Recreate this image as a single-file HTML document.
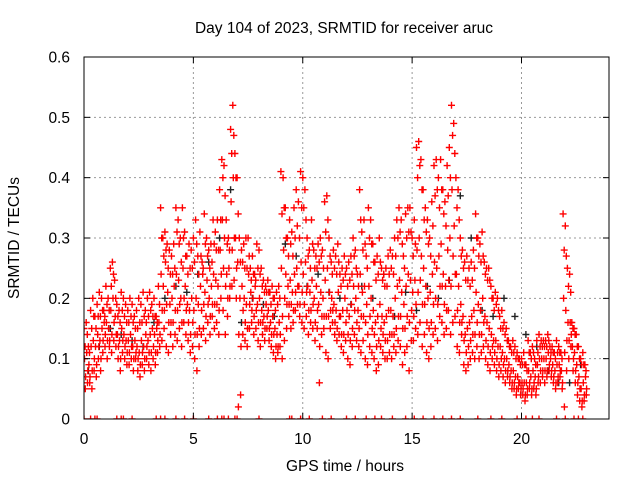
<!DOCTYPE html>
<html><head><meta charset="utf-8"><style>
body{margin:0;background:#fff}
svg{display:block;font-family:"Liberation Sans",sans-serif}
</style></head><body>
<svg id="c" width="640" height="480">
<text x="344" y="33" font-size="15.5" text-anchor="middle">Day 104 of 2023, SRMTID for receiver aruc</text>
<text x="345" y="471" font-size="15.5" text-anchor="middle">GPS time / hours</text>
<text transform="translate(19,238) rotate(-90)" font-size="15.5" text-anchor="middle">SRMTID / TECUs</text>
<defs><clipPath id="pc"><rect x="84" y="57" width="525" height="362"/></clipPath></defs>
<g id="grid"></g>
<g id="pts" clip-path="url(#pc)"></g>
<rect x="84" y="57" width="525" height="362" fill="none" stroke="#000" stroke-width="1"/>
<g id="ticks"></g>
</svg>
<script>
const xTicks=[0,5,10,15,20];
const yTicks=[0,0.1,0.2,0.3,0.4,0.5,0.6];
const yTickLabels=["0","0.1","0.2","0.3","0.4","0.5","0.6"];
const redHi=[15,16,12,18,20,17,19,21,20,18,22,20,25,26,23,19,18,21,20,19,18,20,19,17,18,20,19,21,18,20,21,19,20,17,22,35,30,31,29,28,27,29,35,33,30,35,31,27,29,28,30,33,27,31,26,34,30,28,29,33,31,33,38,43,42,33,30,48,52,44,40,30,28,29,30,30,25,27,24,29,28,25,23,22,23,21,22,20,21,22,41,40,35,30,33,31,35,38,36,41,40,38,30,28,33,28,27,29,30,28,36,37,30,26,28,27,29,24,25,27,25,26,27,30,28,24,38,31,33,27,35,33,29,26,27,30,25,24,25,27,28,27,30,33,35,33,27,34,35,35,30,33,45,46,43,38,35,33,30,36,42,43,40,43,38,36,42,45,52,49,40,38,30,28,26,27,25,26,28,34,30,29,31,26,25,25,22,20,21,20,17,18,16,15,13,12,13,12,11,10,10,11,9,13,11,12,10,13,14,13,13,13,14,12,12,11,13,12,11,34,32,25,24,16,15,14,12,10,11,9];
const redQ1=[12,14,11,15,17,15,17,17,18,17,19,18,22,24,20,17,16,18,17,16,16,17,16,15,15,16,16,17,16,17,18,17,17,16,19,30,27,28,25,24,24,25,31,29,26,30,27,24,25,25,26,29,24,27,25,29,27,25,26,29,28,28,33,40,37,29,28,44,47,40,34,26,26,25,25,27,23,24,23,25,24,22,21,21,21,19,20,18,19,20,34,35,30,27,29,27,30,32,30,35,35,33,27,25,29,25,25,26,27,25,31,33,27,24,25,24,26,22,23,24,22,23,24,27,25,22,33,28,29,25,30,29,26,23,24,26,23,22,22,24,25,24,27,30,31,29,25,30,31,31,27,29,40,42,38,33,31,29,27,32,37,38,35,38,34,32,37,40,47,44,35,33,27,25,23,23,22,23,25,30,27,26,27,24,23,23,20,18,19,18,15,15,14,13,12,11,11,10,10,9,9,9,8,11,10,11,9,11,12,12,12,12,13,11,11,10,11,11,10,28,27,22,21,15,14,12,10,9,9,8];
const redMid=[10,11,9,12,13,12,14,13,15,16,16,15,18,20,17,14,13,15,14,13,13,14,12,13,12,11,13,12,14,13,14,15,14,15,16,24,22,26,21,19,20,22,24,23,20,25,22,19,18,20,18,20,19,22,24,21,23,20,22,24,23,22,28,33,30,24,25,36,40,30,26,20,22,20,19,24,21,20,22,19,20,18,17,19,18,16,17,15,14,16,25,28,24,22,23,21,24,25,22,26,24,26,22,21,23,20,22,19,21,20,23,25,21,20,19,18,21,17,18,20,18,17,19,22,20,18,24,21,22,19,22,20,18,16,17,19,17,16,17,18,18,17,20,22,23,21,19,22,24,23,21,23,28,30,27,25,22,20,21,24,26,25,27,29,24,22,28,30,38,32,24,22,19,17,14,15,16,17,18,21,19,18,20,17,16,15,14,13,13,12,12,11,10,10,9,8,8,7,7,6,6,6,6,8,7,8,7,9,10,10,10,10,11,10,9,8,9,9,8,20,18,16,16,12,11,9,7,5,6,7];
const redQ3=[7,8,7,8,10,9,12,10,13,14,13,13,14,16,14,12,10,13,12,11,11,12,10,11,10,9,11,10,12,11,11,12,11,13,14,18,18,19,16,16,16,18,18,19,16,20,18,16,14,16,14,14,15,18,19,17,19,17,19,19,19,18,24,25,22,20,22,28,30,25,14,12,18,16,15,19,18,17,18,16,16,16,15,17,15,14,14,12,12,14,17,20,19,19,19,18,21,22,19,21,19,21,18,18,19,16,18,12,17,17,17,17,18,18,16,15,17,14,14,16,14,13,15,18,16,15,17,17,16,14,17,15,14,12,13,15,14,13,13,14,14,14,15,17,17,15,15,17,16,18,17,19,21,23,19,19,16,15,16,19,20,19,22,22,19,18,23,22,27,24,18,16,16,13,11,12,13,14,14,16,14,14,16,13,12,11,12,11,10,9,10,9,8,8,7,6,6,5,6,5,5,4,5,6,5,6,5,7,8,8,8,8,9,8,7,6,7,8,6,11,13,13,14,10,8,6,5,3,4,5];
const redLo=[5,6,6,5,8,7,10,8,11,12,10,12,11,13,12,10,8,11,10,9,9,10,8,10,8,7,9,8,10,9,8,10,9,11,12,13,15,12,11,14,12,14,13,15,12,16,14,13,11,12,10,8,12,14,15,13,16,14,17,15,16,14,20,18,14,17,20,22,23,20,2,4,14,13,12,15,16,14,15,13,12,14,13,15,13,12,11,10,11,12,10,13,15,17,15,16,18,19,17,16,15,17,14,16,15,13,15,6,14,15,11,10,15,16,14,13,14,12,11,13,10,9,12,14,13,12,11,13,10,9,12,11,10,8,9,12,11,10,10,11,10,12,11,13,12,9,11,12,8,13,13,15,14,16,12,14,11,10,12,14,15,13,17,16,14,15,18,14,16,17,12,11,14,9,8,9,10,11,10,12,10,11,12,10,9,8,10,9,8,7,8,7,6,7,6,5,5,4,5,4,4,3,4,5,4,5,4,6,6,7,6,7,8,7,6,5,6,7,5,2,8,10,12,8,6,4,3,2,3,4];
const black=[8,12,15,14,13,12,16,20,22,21,24,26,30,38,16,20,19,17,29,27,22,24,21,20,19,22,20,24,17,21,18,22,20,23,37,30,18,17,20,17,14,12,8,6,6,9];
const zeroTimes=[0,0.3,0.5,0.6,1.5,1.7,1.8,2.2,3.3,3.5,3.7,4.2,4.6,5.0,5.7,6.1,6.3,6.4,6.6,6.9,7.0,8.0,9.4,9.5,9.9,10.3,10.9,11.3,12.0,12.4,12.9,13.3,13.6,14.1,14.7,15.1,15.5,16.0,16.4,16.8,17.2,18.0,18.6,19.1,19.8,20.2,20.5,20.8,21.6,22.0,22.4,22.6,22.8];

const NS="http://www.w3.org/2000/svg";
const X0=84,X1=609,Y0=419,Y1=57,XMAX=24,YMAX=0.6;
function xs(t){return X0+(X1-X0)*t/XMAX;}
function ys(v){return Y0-(Y0-Y1)*v/YMAX;}
const grid=document.getElementById('grid'),tk=document.getElementById('ticks'),pts=document.getElementById('pts');
function mk(tag,attrs,parent){const e=document.createElementNS(NS,tag);for(const k in attrs)e.setAttribute(k,attrs[k]);parent.appendChild(e);return e;}
xTicks.forEach(t=>{
  const x=xs(t);
  if(t>0){const g=mk('line',{x1:x,x2:x,y1:Y1,y2:Y0,stroke:'#999','stroke-dasharray':'2,3'},grid);
  
  }
  mk('line',{x1:x,x2:x,y1:Y0,y2:Y0-6,stroke:'#000'},tk);
  mk('line',{x1:x,x2:x,y1:Y1,y2:Y1+6,stroke:'#000'},tk);
  const l=mk('text',{x:x,y:Y0+25,'font-size':15.5,'text-anchor':'middle'},tk);l.textContent=t;
  
  
});
yTicks.forEach((v,i)=>{
  const y=ys(v);
  if(v>0&&v<0.6){const g=mk('line',{x1:X0,x2:X1,y1:y,y2:y,stroke:'#999','stroke-dasharray':'2,3'},grid);
  
  }
  mk('line',{x1:X0,x2:X0+6,y1:y,y2:y,stroke:'#000'},tk);
  mk('line',{x1:X1,x2:X1-6,y1:y,y2:y,stroke:'#000'},tk);
  const l=mk('text',{x:X0-14,y:y+5.5,'font-size':15.5,'text-anchor':'end'},tk);l.textContent=yTickLabels[i];
  
  
});
function series(times,vals,color,name){
  let d='';
  for(let i=0;i<vals.length;i++){const x=xs(times(i)),y=ys(vals[i]/100);
    d+=`M${(x-3.5).toFixed(1)} ${y.toFixed(1)}h7M${x.toFixed(1)} ${(y-3.5).toFixed(1)}v7`;}
  const p=mk('path',{d:d,stroke:color,'stroke-width':1.4,fill:'none'},pts);
  
  
}
series(i=>i*0.5+0.2,black,'#222','black-series-points');
series(i=>i*0.1,redHi,'#f00','red-series-high');
series(i=>i*0.1+0.05,redQ1,'#f00','red-series-upper-mid');
series(i=>i*0.1+0.025,redMid,'#f00','red-series-mid');
series(i=>i*0.1+0.075,redQ3,'#f00','red-series-lower-mid');
series(i=>i*0.1+0.06,redLo,'#f00','red-series-low');
series(i=>zeroTimes[i],zeroTimes.map(()=>0),'#f00','red-series-zeros');
</script>
</body></html>
